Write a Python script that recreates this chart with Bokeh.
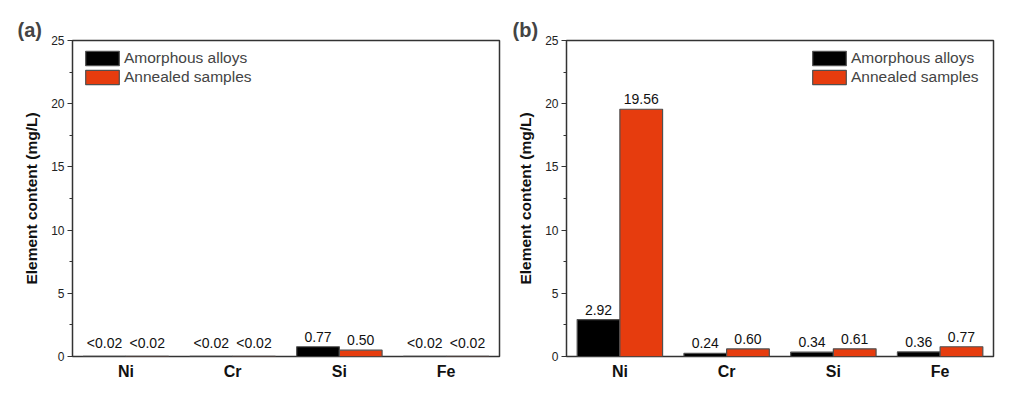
from bokeh.plotting import figure
from bokeh.models import FactorRange, Range1d, ColumnDataSource, Title, Legend, LegendItem, FixedTicker
from bokeh.transform import dodge
from bokeh.layouts import row
from bokeh.embed import file_html
from bokeh.resources import INLINE
from bokeh.core.properties import value

elements = ["Ni", "Cr", "Si", "Fe"]
series_names = ["Amorphous alloys", "Annealed samples"]
a_amorphous = [0.02, 0.02, 0.77, 0.02]
a_annealed = [0.02, 0.02, 0.50, 0.02]
a_amorphous_lbl = ["<0.02", "<0.02", "0.77", "<0.02"]
a_annealed_lbl = ["<0.02", "<0.02", "0.50", "<0.02"]
b_amorphous = [2.92, 0.24, 0.34, 0.36]
b_annealed = [19.56, 0.60, 0.61, 0.77]
b_amorphous_lbl = ["2.92", "0.24", "0.34", "0.36"]
b_annealed_lbl = ["19.56", "0.60", "0.61", "0.77"]
y_ticks = [0, 5, 10, 15, 20, 25]
y_minor = [2.5, 7.5, 12.5, 17.5, 22.5]

BLACK = "#000000"
RED = "#E63C0E"
EDGE = "#505050"
FONT = "Liberation Sans"


def panel(tag, v1, v2, l1, l2, legend_loc, ml, mr, top, bottom, tag_off, lab_w):
    src = ColumnDataSource(dict(x=elements, v1=v1, v2=v2, l1=l1, l2=l2))
    p = figure(x_range=FactorRange(*elements, range_padding=0, factor_padding=0),
               y_range=Range1d(0, 25), frame_width=427, frame_height=316,
               min_border_left=ml, min_border_right=mr, min_border_top=top,
               min_border_bottom=bottom, output_backend="svg", toolbar_location=None,
               background_fill_color="white", border_fill_color="white")
    p.grid.visible = False
    p.outline_line_color = "#333333"
    p.outline_line_width = 1.5
    r1 = p.vbar(x=dodge("x", -0.2, range=p.x_range), top="v1", width=0.4, source=src,
                fill_color=BLACK, line_color=EDGE, line_width=1.2)
    r2 = p.vbar(x=dodge("x", 0.2, range=p.x_range), top="v2", width=0.4, source=src,
                fill_color=RED, line_color=EDGE, line_width=1.2)
    for col, lab, dx in (("v1", "l1", -0.2), ("v2", "l2", 0.2)):
        p.text(x=dodge("x", dx, range=p.x_range), y=col, text=lab, source=src,
               text_align="center", text_baseline="bottom", y_offset=-5,
               text_font=value(FONT), text_font_size="14px", text_color="#111111")
    # axes
    p.yaxis.ticker = FixedTicker(ticks=y_ticks, minor_ticks=y_minor)
    p.yaxis.axis_label = "Element content (mg/L)"
    p.yaxis.axis_label_text_font = FONT
    p.yaxis.axis_label_text_font_style = "bold"
    p.yaxis.axis_label_text_font_size = "15.5px"
    p.yaxis.axis_label_text_color = "#111111"
    p.yaxis.axis_label_standoff = 8
    p.yaxis.major_label_text_font = FONT
    p.yaxis.major_label_text_font_size = "12px"
    p.yaxis.major_label_text_color = "#222222"
    p.yaxis.major_tick_out = 5
    p.yaxis.major_tick_in = 0
    p.yaxis.minor_tick_out = 3
    p.yaxis.minor_tick_in = 0
    p.yaxis.major_label_standoff = 3
    p.axis.axis_line_color = None
    p.yaxis.major_tick_line_color = "#333333"
    p.yaxis.minor_tick_line_color = "#333333"
    p.xaxis.major_tick_line_color = None
    p.xaxis.major_label_text_font = FONT
    p.xaxis.major_label_text_font_style = "bold"
    p.xaxis.major_label_text_font_size = "16px"
    p.xaxis.major_label_text_color = "#111111"
    p.xaxis.major_label_standoff = 0
    # legend
    leg = Legend(items=[LegendItem(label=series_names[0], renderers=[r1]),
                        LegendItem(label=series_names[1], renderers=[r2])],
                 location=legend_loc, border_line_color=None, background_fill_alpha=0,
                 label_text_font=FONT, label_text_font_size="15.5px",
                 glyph_width=42, glyph_height=18, label_standoff=1, spacing=1,
                 padding=0, margin=9, label_height=17, label_width=lab_w)
    p.add_layout(leg)
    t = Title(text=tag, text_font=FONT, text_font_style="bold", text_font_size="20px",
              align="left", offset=tag_off, standoff=0)
    p.add_layout(t, "above")
    return p


pa = panel("(a)", a_amorphous, a_annealed, a_amorphous_lbl, a_annealed_lbl,
           "top_left", 72, 6, 40, 42, -55, 20)
pb = panel("(b)", b_amorphous, b_annealed, b_amorphous_lbl, b_annealed_lbl,
           "top_right", 61, 20, 39, 43, -54, 133)

layout = row(pa, pb, spacing=0)
open("out.html", "w").write(file_html(layout, INLINE))
